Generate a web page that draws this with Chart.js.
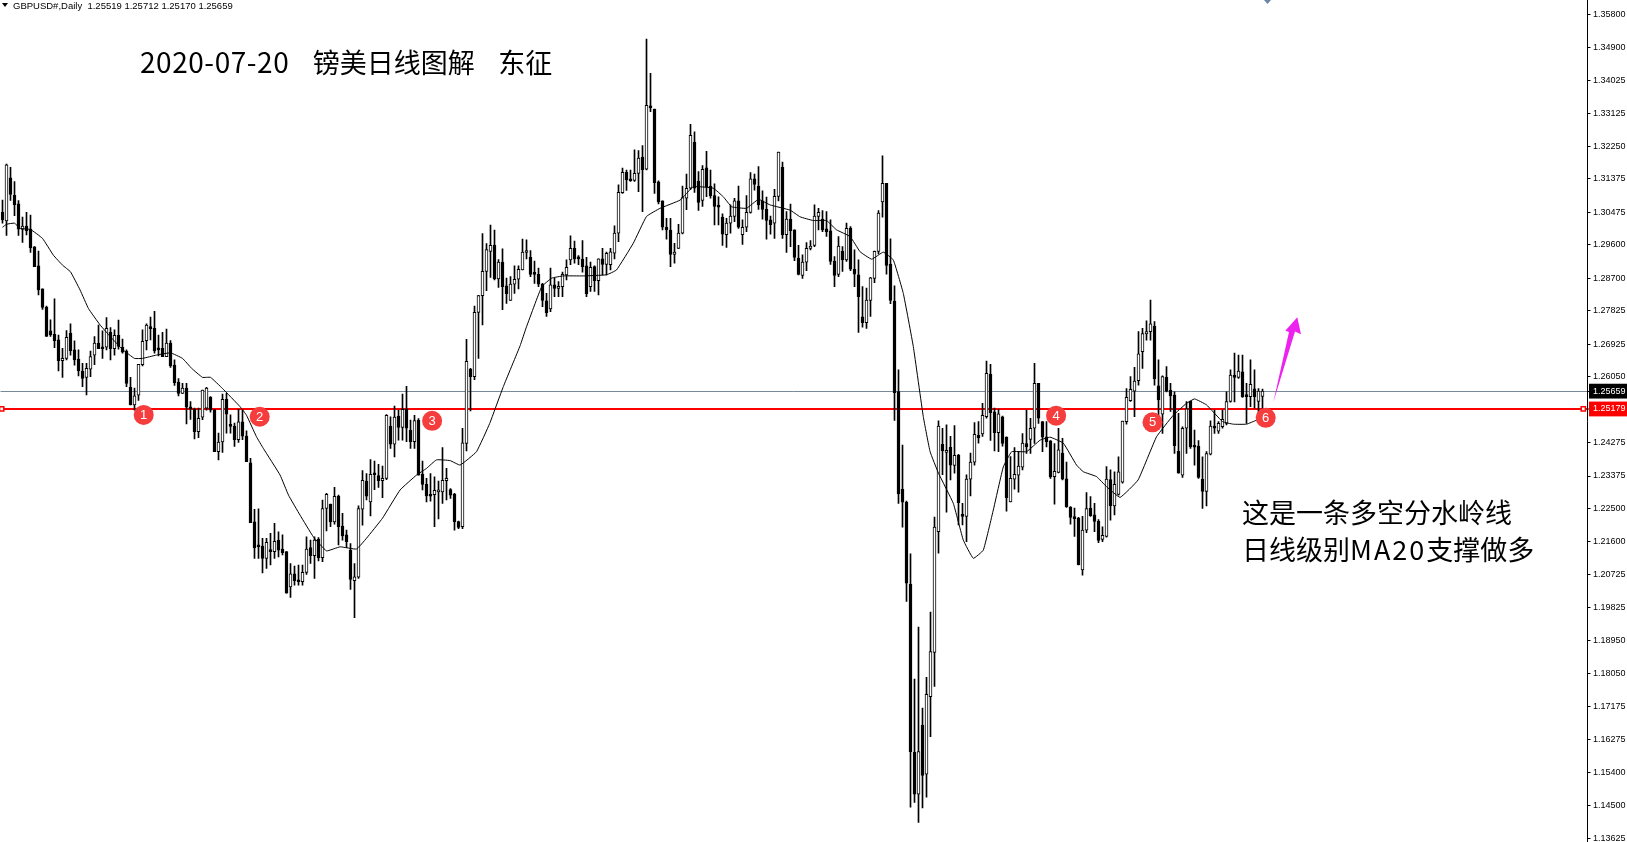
<!DOCTYPE html>
<html>
<head>
<meta charset="utf-8">
<title>GBPUSD Daily</title>
<script src="https://cdn.jsdelivr.net/npm/chart.js@4"></script>
<style>
    html, body { margin: 0; padding: 0; background: #fff; }
    #wrap { position: relative; width: 1627px; height: 842px; overflow: hidden; }
    #wrap div { position: absolute; white-space: pre; color: #000; }
    #header { left: 13px; top: 0; font: 9.5px/12px "Liberation Sans", sans-serif; }
    #title { left: 140px; top: 41px; font: 27px/40px "Noto Sans CJK SC", sans-serif; word-spacing: 1.8px; }
    #title span { font-size: 28px; letter-spacing: 0.55px; }
    #note1 { left: 1242px; top: 492px; font: 27px/40px "Noto Sans CJK SC", sans-serif; }
    #note2 { left: 1242px; top: 529px; font: 27px/40px "Noto Sans CJK SC", sans-serif; }
    #note2 span { letter-spacing: 2px; }
    svg { position: absolute; left: 0; top: 0; }
</style>
</head>
<body>
<div id="wrap">
    <canvas id="priceChart" width="1627" height="842"></canvas>
    <svg width="1627" height="842">
        <polygon points="2,3 8,3 5,7" fill="#000"/>
        <polygon points="1273.3,402.3 1289,332 1285.3,330.7 1297.3,317.3 1301,334.3 1295,331.5" fill="#ee22ee"/>
        <polygon points="1264,0 1271,0 1267.5,4" fill="#6b86a8"/>
    </svg>
    <div id="header">GBPUSD#,Daily  1.25519 1.25712 1.25170 1.25659</div>
    <div id="title"><span>2020-07-20</span>   镑美日线图解   东征</div>
    <div id="note1">这是一条多空分水岭线</div>
    <div id="note2">日线级别<span>MA20</span>支撑做多</div>
</div>
<script>
var openPrices = [
    1.3047,1.3024,1.3140,1.3093,1.3070,1.3001,1.3010,1.3002,1.2954,1.2903,
    1.2841,1.2792,1.2728,1.2719,1.2704,1.2648,1.2654,1.2722,1.2677,1.2652,
    1.2620,1.2603,1.2625,1.2663,1.2695,1.2684,1.2684,1.2724,1.2680,1.2716,
    1.2684,1.2673,1.2576,1.2529,1.2555,1.2637,1.2702,1.2736,1.2735,1.2681,
    1.2681,1.2659,1.2695,1.2636,1.2590,1.2560,1.2574,1.2522,1.2517,1.2457,
    1.2496,1.2520,1.2550,1.2515,1.2403,1.2429,1.2544,1.2475,1.2472,1.2435,
    1.2483,1.2445,1.2373,1.2214,1.2149,1.2149,1.2116,1.2135,1.2134,1.2165,
    1.2141,1.2134,1.2039,1.2074,1.2057,1.2053,1.2078,1.2145,1.2123,1.2167,
    1.2118,1.2250,1.2262,1.2214,1.2283,1.2203,1.2179,1.2138,1.2056,1.2065,
    1.2248,1.2324,1.2268,1.2344,1.2339,1.2325,1.2331,1.2472,1.2423,1.2499,
    1.2468,1.2517,1.2461,1.2430,1.2488,1.2343,1.2315,1.2286,1.2287,1.2295,
    1.2295,1.2325,1.2301,1.2289,1.2215,1.2201,1.2425,1.2625,1.2605,1.2778,
    1.2823,1.2888,1.2942,1.2959,1.2868,1.2913,1.2849,1.2810,1.2854,1.2867,
    1.2892,1.2939,1.2926,1.2883,1.2880,1.2854,1.2809,1.2787,1.2852,1.2842,
    1.2847,1.2879,1.2919,1.2950,1.2924,1.2921,1.2903,1.2847,1.2901,1.2863,
    1.2922,1.2907,1.2906,1.2937,1.2991,1.3100,1.3155,1.3134,1.3133,1.3152,
    1.3196,1.3163,1.3333,1.3325,1.3129,1.3078,1.3007,1.2999,1.2934,1.2950,
    1.2991,1.3085,1.3112,1.3236,1.3131,1.3079,1.3167,1.3118,1.3092,1.3064,
    1.3034,1.2987,1.3018,1.3036,1.3078,1.2987,1.3007,1.3047,1.3137,1.3118,
    1.3078,1.3055,1.3027,1.3018,1.3090,1.3168,1.2987,1.3029,1.3000,1.2924,
    1.2877,1.2913,1.2950,1.2958,1.3036,1.3029,1.3003,1.2997,1.2916,1.2880,
    1.2943,1.2919,1.3005,1.2894,1.2879,1.2766,1.2750,1.2810,1.2869,1.2942,
    1.3075,1.3125,1.2908,1.2808,1.2565,1.2302,1.2267,1.2046,1.1594,1.1481,
    1.1667,1.1535,1.1744,1.1863,1.2188,1.2423,1.2401,1.2415,1.2366,1.2393,
    1.2231,1.2229,1.2329,1.2375,1.2447,1.2451,1.2497,1.2611,1.2510,1.2454,
    1.2497,1.2442,1.2268,1.2329,1.2340,1.2361,1.2425,1.2436,1.2466,1.2587,
    1.2484,1.2443,1.2432,1.2336,1.2347,1.2399,1.2330,1.2254,1.2227,1.2224,
    1.2085,1.2192,1.2251,1.2233,1.2216,1.2167,1.2175,1.2328,1.2257,1.2288,
    1.2321,1.2484,1.2540,1.2566,1.2594,1.2672,1.2720,1.2726,1.2741,1.2580,
    1.2504,1.2603,1.2569,1.2555,1.2404,1.2340,1.2466,1.2539,1.2418,1.2418,
    1.2329,1.2296,1.2396,1.2472,1.2458,1.2470,1.2479,1.2538,1.2609,1.2603,
    1.2618,1.2553,1.2551,1.2572,1.2538,1.25519
];
var highPrices = [
    1.3080,1.3177,1.3168,1.3130,1.3079,1.3034,1.3047,1.3040,1.2955,1.2943,
    1.2841,1.2795,1.2758,1.2814,1.2717,1.2681,1.2729,1.2747,1.2701,1.2677,
    1.2641,1.2641,1.2674,1.2713,1.2744,1.2728,1.2764,1.2737,1.2731,1.2757,
    1.2706,1.2677,1.2603,1.2574,1.2638,1.2731,1.2747,1.2765,1.2781,1.2717,
    1.2724,1.2733,1.2702,1.2650,1.2600,1.2587,1.2587,1.2538,1.2520,1.2520,
    1.2569,1.2576,1.2551,1.2517,1.2453,1.2558,1.2560,1.2502,1.2480,1.2517,
    1.2515,1.2459,1.2385,1.2248,1.2249,1.2170,1.2170,1.2183,1.2210,1.2187,
    1.2179,1.2134,1.2102,1.2095,1.2098,1.2098,1.2174,1.2165,1.2174,1.2172,
    1.2273,1.2291,1.2262,1.2307,1.2286,1.2237,1.2192,1.2156,1.2102,1.2257,
    1.2352,1.2344,1.2382,1.2378,1.2369,1.2364,1.2503,1.2497,1.2526,1.2515,
    1.2558,1.2579,1.2488,1.2501,1.2492,1.2378,1.2331,1.2344,1.2335,1.2324,
    1.2414,1.2358,1.2304,1.2291,1.2216,1.2466,1.2705,1.2627,1.2795,1.2824,
    1.2990,1.2963,1.3013,1.2999,1.2920,1.2949,1.2870,1.2874,1.2903,1.2903,
    1.2975,1.2973,1.2944,1.2916,1.2897,1.2856,1.2829,1.2897,1.2870,1.2861,
    1.2886,1.2919,1.2984,1.2970,1.2931,1.2971,1.2926,1.2913,1.2903,1.2922,
    1.2950,1.2940,1.2950,1.3011,1.3121,1.3166,1.3161,1.3161,1.3215,1.3213,
    1.3227,1.3513,1.3421,1.3325,1.3132,1.3078,1.3031,1.3031,1.2964,1.3015,
    1.3118,1.3150,1.3284,1.3264,1.3157,1.3173,1.3211,1.3161,1.3124,1.3089,
    1.3043,1.3031,1.3067,1.3085,1.3118,1.3027,1.3092,1.3154,1.3150,1.3170,
    1.3105,1.3088,1.3037,1.3109,1.3209,1.3182,1.3049,1.3069,1.3000,1.2958,
    1.2933,1.2966,1.2971,1.3067,1.3058,1.3052,1.3049,1.3027,1.2928,1.2982,
    1.2955,1.3018,1.3009,1.2946,1.2919,1.2847,1.2843,1.2872,1.2943,1.3052,
    1.3199,1.3125,1.2976,1.2849,1.2623,1.2421,1.2270,1.2128,1.1791,1.1931,
    1.1713,1.1796,1.1971,1.2227,1.2486,1.2466,1.2475,1.2444,1.2473,1.2396,
    1.2264,1.2341,1.2399,1.2481,1.2484,1.2533,1.2647,1.2638,1.2520,1.2517,
    1.2499,1.2443,1.2390,1.2414,1.2403,1.2452,1.2515,1.2493,1.2641,1.2587,
    1.2484,1.2484,1.2433,1.2425,1.2466,1.2439,1.2375,1.2255,1.2251,1.2226,
    1.2229,1.2293,1.2282,1.2264,1.2220,1.2201,1.2363,1.2354,1.2349,1.2389,
    1.2485,1.2573,1.2605,1.2630,1.2726,1.2735,1.2755,1.2811,1.2753,1.2650,
    1.2607,1.2632,1.2587,1.2564,1.2506,1.2470,1.2538,1.2539,1.2461,1.2433,
    1.2389,1.2403,1.2486,1.2515,1.2484,1.2515,1.2564,1.2623,1.2668,1.2663,
    1.2663,1.2587,1.2650,1.2623,1.2573,1.25712
];
var lowPrices = [
    1.3018,1.2985,1.3079,1.3038,1.2985,1.2966,1.2986,1.2939,1.2901,1.2825,
    1.2786,1.2713,1.2713,1.2683,1.2620,1.2603,1.2650,1.2663,1.2636,1.2607,
    1.2578,1.2556,1.2605,1.2637,1.2680,1.2654,1.2677,1.2650,1.2663,1.2679,
    1.2668,1.2578,1.2529,1.2515,1.2541,1.2634,1.2677,1.2704,1.2668,1.2661,
    1.2659,1.2659,1.2630,1.2581,1.2553,1.2560,1.2478,1.2490,1.2437,1.2441,
    1.2489,1.2515,1.2509,1.2403,1.2381,1.2401,1.2453,1.2453,1.2417,1.2428,
    1.2435,1.2376,1.2212,1.2116,1.2116,1.2077,1.2089,1.2098,1.2116,1.2120,
    1.2125,1.2022,1.2011,1.2044,1.2044,1.2044,1.2073,1.2102,1.2062,1.2109,
    1.2107,1.2190,1.2201,1.2208,1.2152,1.2165,1.2145,1.2032,1.1956,1.2062,
    1.2205,1.2273,1.2230,1.2301,1.2307,1.2279,1.2328,1.2412,1.2389,1.2434,
    1.2434,1.2430,1.2412,1.2412,1.2340,1.2300,1.2268,1.2270,1.2201,1.2222,
    1.2264,1.2273,1.2277,1.2192,1.2196,1.2196,1.2405,1.2513,1.2597,1.2654,
    1.2744,1.2836,1.2872,1.2865,1.2845,1.2785,1.2802,1.2810,1.2829,1.2841,
    1.2892,1.2922,1.2874,1.2856,1.2847,1.2793,1.2767,1.2780,1.2820,1.2820,
    1.2820,1.2865,1.2906,1.2910,1.2906,1.2886,1.2820,1.2834,1.2834,1.2825,
    1.2879,1.2879,1.2892,1.2922,1.2968,1.3098,1.3106,1.3130,1.3130,1.3103,
    1.3049,1.3161,1.3318,1.3098,1.3070,1.3000,1.2975,1.2901,1.2910,1.2950,
    1.2989,1.3054,1.3109,1.3101,1.3052,1.3063,1.3089,1.3085,1.3013,1.3013,
    1.2958,1.2953,1.2991,1.3022,1.3004,1.2961,1.2995,1.3045,1.3107,1.3055,
    1.3029,1.2975,1.2988,1.2977,1.3078,1.2977,1.2939,1.2955,1.2917,1.2879,
    1.2869,1.2890,1.2946,1.2955,1.3000,1.2995,1.2982,1.2907,1.2847,1.2874,
    1.2888,1.2915,1.2890,1.2847,1.2724,1.2738,1.2735,1.2767,1.2858,1.2935,
    1.3034,1.2881,1.2801,1.2487,1.2264,1.2200,1.2000,1.1446,1.1459,1.1405,
    1.1444,1.1473,1.1636,1.1771,1.2130,1.2341,1.2240,1.2327,1.2345,1.2206,
    1.2206,1.2161,1.2284,1.2367,1.2426,1.2444,1.2493,1.2433,1.2405,1.2403,
    1.2418,1.2243,1.2268,1.2302,1.2294,1.2354,1.2398,1.2398,1.2425,1.2479,
    1.2403,1.2416,1.2331,1.2262,1.2346,1.2327,1.2253,1.2208,1.2175,1.2098,
    1.2071,1.2185,1.2229,1.2188,1.2158,1.2161,1.2173,1.2219,1.2233,1.2286,
    1.2318,1.2477,1.2538,1.2497,1.2582,1.2627,1.2703,1.2703,1.2582,1.2502,
    1.2452,1.2564,1.2511,1.2398,1.2345,1.2334,1.2398,1.2412,1.2367,1.2331,
    1.2250,1.2257,1.2394,1.2452,1.2452,1.2466,1.2475,1.2536,1.2537,1.2600,
    1.2549,1.2479,1.2524,1.2520,1.2506,1.25170
];
var closePrices = [
    1.3027,1.3175,1.3095,1.3068,1.3002,1.3010,1.2998,1.2952,1.2901,1.2838,
    1.2791,1.2713,1.2717,1.2702,1.2648,1.2654,1.2711,1.2675,1.2650,1.2621,
    1.2600,1.2627,1.2659,1.2695,1.2680,1.2680,1.2735,1.2680,1.2716,1.2686,
    1.2671,1.2587,1.2529,1.2553,1.2638,1.2700,1.2744,1.2734,1.2674,1.2677,
    1.2659,1.2695,1.2634,1.2589,1.2560,1.2574,1.2523,1.2518,1.2457,1.2493,
    1.2569,1.2574,1.2515,1.2403,1.2429,1.2544,1.2504,1.2471,1.2435,1.2483,
    1.2445,1.2376,1.2212,1.2144,1.2147,1.2116,1.2159,1.2134,1.2162,1.2138,
    1.2131,1.2022,1.2074,1.2056,1.2053,1.2078,1.2141,1.2123,1.2165,1.2118,
    1.2250,1.2288,1.2214,1.2283,1.2201,1.2176,1.2161,1.2059,1.2066,1.2250,
    1.2326,1.2283,1.2342,1.2341,1.2325,1.2331,1.2501,1.2423,1.2496,1.2468,
    1.2517,1.2466,1.2430,1.2487,1.2340,1.2315,1.2284,1.2283,1.2299,1.2297,
    1.2326,1.2331,1.2286,1.2214,1.2199,1.2427,1.2646,1.2605,1.2778,1.2823,
    1.2888,1.2947,1.2958,1.2868,1.2913,1.2847,1.2828,1.2854,1.2867,1.2894,
    1.2940,1.2941,1.2880,1.2880,1.2854,1.2810,1.2777,1.2852,1.2842,1.2848,
    1.2880,1.2899,1.2950,1.2922,1.2922,1.2901,1.2828,1.2899,1.2863,1.2922,
    1.2907,1.2937,1.2941,1.2991,1.3101,1.3155,1.3134,1.3132,1.3152,1.3193,
    1.3162,1.3335,1.3328,1.3127,1.3075,1.3007,1.3000,1.2934,1.2940,1.2991,
    1.3087,1.3112,1.3254,1.3112,1.3074,1.3163,1.3116,1.3091,1.3063,1.3061,
    1.2988,1.3018,1.3037,1.3078,1.3007,1.3007,1.3047,1.3137,1.3122,1.3067,
    1.3055,1.3025,1.3014,1.3090,1.3209,1.2986,1.3029,1.2998,1.2926,1.2880,
    1.2913,1.2950,1.2956,1.3037,1.3047,1.3000,1.2995,1.2915,1.2877,1.2956,
    1.2919,1.3004,1.2894,1.2881,1.2820,1.2750,1.2811,1.2871,1.2942,1.3045,
    1.3125,1.2904,1.2810,1.2562,1.2289,1.2267,1.2049,1.1596,1.1481,1.1596,
    1.1532,1.1750,1.1865,1.2200,1.2472,1.2406,1.2406,1.2367,1.2393,1.2266,
    1.2229,1.2329,1.2375,1.2450,1.2440,1.2501,1.2614,1.2508,1.2454,1.2505,
    1.2425,1.2279,1.2331,1.2342,1.2364,1.2426,1.2416,1.2466,1.2587,1.2493,
    1.2442,1.2430,1.2335,1.2350,1.2408,1.2329,1.2255,1.2226,1.2223,1.2099,
    1.2192,1.2250,1.2231,1.2215,1.2164,1.2178,1.2329,1.2257,1.2315,1.2349,
    1.2485,1.2549,1.2571,1.2593,1.2666,1.2721,1.2726,1.2747,1.2599,1.2542,
    1.2605,1.2566,1.2553,1.2419,1.2345,1.2466,1.2518,1.2416,1.2415,1.2334,
    1.2296,1.2398,1.2472,1.2466,1.2479,1.2490,1.2538,1.2609,1.2603,1.2620,
    1.2551,1.2551,1.2584,1.2551,1.2566,1.25659
];

// ma20 at the bars where the line bends
var maBars = [
    0,1,3,4.4,7,10,12.7,15,17,19.4,21.5,24.4,27,30,33,35,38.5,42,45,47.3,50,52,55,59.4,61,63.5,65.2,69.4,71.5,74.4,
    77.7,81,84.4,88.5,91,95,99.4,103.5,106,108.5,111.9,114.4,118.5,121.8,125.2,129.4,130.9,134.8,137.3,140.2,145.2,151,153.5,157.7,161,164.4,169.4,172.7,177.7,180.2,
    182.3,186,189,191.9,196.9,199.4,202.7,206,208.5,211.9,214.4,217.3,220.2,222.7,225.2,227.7,230.2,231.9,234,237.7,240.2,242.7,245.2,247.7,250.2,252.3,256,259.4,261.9,265.2,
    268.5,270.2,273.5,276,279.4,283.9,288.5,292.7,296,298,301,305,307.7,311,313.5,315
];
var maValues = [
    1.3007,1.3015,1.3018,1.3004,1.3001,1.2977,1.2932,1.2905,1.2887,1.2838,1.2788,1.2744,1.2712,1.2678,1.2654,1.2654,1.2663,1.2669,1.2654,1.2627,1.2603,1.2603,1.2573,1.2524,1.2501,1.2443,1.2412,1.2340,1.2286,1.2232,
    1.2174,1.2136,1.2147,1.2141,1.2170,1.2224,1.2300,1.2340,1.2358,1.2381,1.2379,1.2367,1.2403,1.2479,1.2578,1.2688,1.2736,1.2847,1.2870,1.2876,1.2876,1.2879,1.2892,1.2964,1.3036,1.3058,1.3080,1.3116,1.3112,1.3089,
    1.3062,1.3058,1.3082,1.3067,1.3053,1.3035,1.3025,1.3025,1.3000,1.2982,1.2941,1.2921,1.2940,1.2919,1.2829,1.2686,1.2497,1.2403,1.2345,1.2264,1.2165,1.2116,1.2138,1.2246,1.2362,1.2403,1.2403,1.2434,1.2442,1.2426,
    1.2367,1.2349,1.2336,1.2309,1.2280,1.2327,1.2443,1.2501,1.2533,1.2545,1.2529,1.2484,1.2477,1.2477,1.2488,1.2505
];

var lastPrice = 1.25659;
var levelPrice = 1.25179;
var levelAnchorBars = [-0.2, 395.2];

var calloutBars = [35.3, 64.3, 107.4, 263.4, 287.5, 315.8];
var calloutPrices = [1.2502, 1.2497, 1.2486, 1.2500, 1.2482, 1.2494];
var calloutLabels = ['1', '2', '3', '4', '5', '6'];

var tickValues = [
    1.35800,1.34900,1.34025,1.33125,1.32250,1.31375,1.30475,1.29600,1.28700,1.27825,1.26925,1.26050,
    lastPrice,levelPrice,
    1.24275,1.23375,1.22500,1.21600,1.20725,1.19825,1.18950,1.18050,1.17175,1.16275,1.15400,1.14500,1.13625
];

document.addEventListener('DOMContentLoaded', function () {
    var wicks = highPrices.map(function (h, i) { return { x: i, y: [lowPrices[i], h] }; });
    var bodies = openPrices.map(function (o, i) { return { x: i, y: [o, closePrices[i]] }; });
    var ma = maBars.map(function (b, i) { return { x: b, y: maValues[i] }; });
    var callouts = calloutBars.map(function (b, i) { return { x: b, y: calloutPrices[i] }; });
    var anchors = levelAnchorBars.map(function (b) { return { x: b, y: levelPrice }; });

    var calloutNumbers = {
        id: 'calloutNumbers',
        afterDatasetsDraw: function (chart) {
            var ctx = chart.ctx;
            var xs = chart.scales.x;
            var ys = chart.scales.y;
            ctx.save();
            ctx.fillStyle = '#fff';
            ctx.font = '13px "Liberation Sans", sans-serif';
            ctx.textAlign = 'center';
            ctx.textBaseline = 'middle';
            calloutLabels.forEach(function (label, i) {
                ctx.fillText(label, xs.getPixelForValue(calloutBars[i]), ys.getPixelForValue(calloutPrices[i]) + 0.5);
            });
            ctx.restore();
        }
    };

    new Chart(document.getElementById('priceChart').getContext('2d'), {
        type: 'bar',
        data: {
            datasets: [
                {
                    data: wicks,
                    order: 4,
                    grouped: false,
                    barThickness: 1,
                    minBarLength: 1,
                    backgroundColor: '#000',
                    borderWidth: 0
                },
                {
                    data: bodies,
                    order: 3,
                    grouped: false,
                    barThickness: 3,
                    minBarLength: 2,
                    borderWidth: 1,
                    borderColor: '#000',
                    borderSkipped: false,
                    backgroundColor: function (ctx) {
                        var i = ctx.dataIndex;
                        return closePrices[i] >= openPrices[i] ? '#fff' : '#000';
                    }
                },
                {
                    type: 'line',
                    data: ma,
                    order: 2,
                    borderColor: '#000',
                    borderWidth: 1,
                    pointRadius: 0,
                    tension: 0.1
                },
                {
                    type: 'line',
                    data: anchors,
                    order: 1,
                    showLine: false,
                    clip: false,
                    pointStyle: 'rect',
                    pointRadius: 3,
                    pointBackgroundColor: '#fff',
                    pointBorderColor: '#f00',
                    pointBorderWidth: 1.5
                },
                {
                    type: 'line',
                    data: callouts,
                    order: 0,
                    showLine: false,
                    pointRadius: 10,
                    pointBackgroundColor: '#f53d3d',
                    pointBorderWidth: 0
                }
            ]
        },
        options: {
            responsive: false,
            animation: false,
            events: [],
            layout: { autoPadding: false, padding: { left: 0.5, right: 0, top: 0, bottom: 0 } },
            plugins: { legend: { display: false }, title: { display: false }, tooltip: { enabled: false } },
            scales: {
                x: {
                    type: 'linear',
                    display: false,
                    offset: false,
                    min: -0.5,
                    max: 396.25
                },
                y: {
                    type: 'linear',
                    position: 'right',
                    min: 1.13526,
                    max: 1.36185,
                    beginAtZero: false,
                    afterBuildTicks: function (scale) {
                        scale.ticks = tickValues.map(function (v) { return { value: v }; });
                    },
                    afterFit: function (scale) {
                        scale.width = 39.5;
                        scale.paddingTop = 0;
                        scale.paddingBottom = 0;
                    },
                    border: { display: true, color: '#000', width: 1 },
                    grid: {
                        drawOnChartArea: true,
                        tickLength: 3,
                        tickWidth: 1,
                        tickColor: '#000',
                        lineWidth: function (ctx) {
                            return ctx.tick && ctx.tick.value === levelPrice ? 2 : 1;
                        },
                        color: function (ctx) {
                            if (!ctx.tick) return 'transparent';
                            if (ctx.tick.value === levelPrice) return '#f00';
                            if (ctx.tick.value === lastPrice) return '#778899';
                            return 'transparent';
                        }
                    },
                    ticks: {
                        autoSkip: false,
                        maxRotation: 0,
                        padding: 2.5,
                        font: { family: '"Liberation Sans", sans-serif', size: 9 },
                        callback: function (v) { return v.toFixed(5); },
                        color: function (ctx) {
                            var v = ctx.tick.value;
                            return v === levelPrice || v === lastPrice ? '#fff' : '#000';
                        },
                        showLabelBackdrop: true,
                        backdropPadding: { left: 4, right: 4, top: 2, bottom: 2 },
                        backdropColor: function (ctx) {
                            var v = ctx.tick.value;
                            if (v === levelPrice) return '#f00';
                            if (v === lastPrice) return '#000';
                            return 'transparent';
                        }
                    }
                }
            }
        },
        plugins: [calloutNumbers]
    });
});
</script>
</body>
</html>
